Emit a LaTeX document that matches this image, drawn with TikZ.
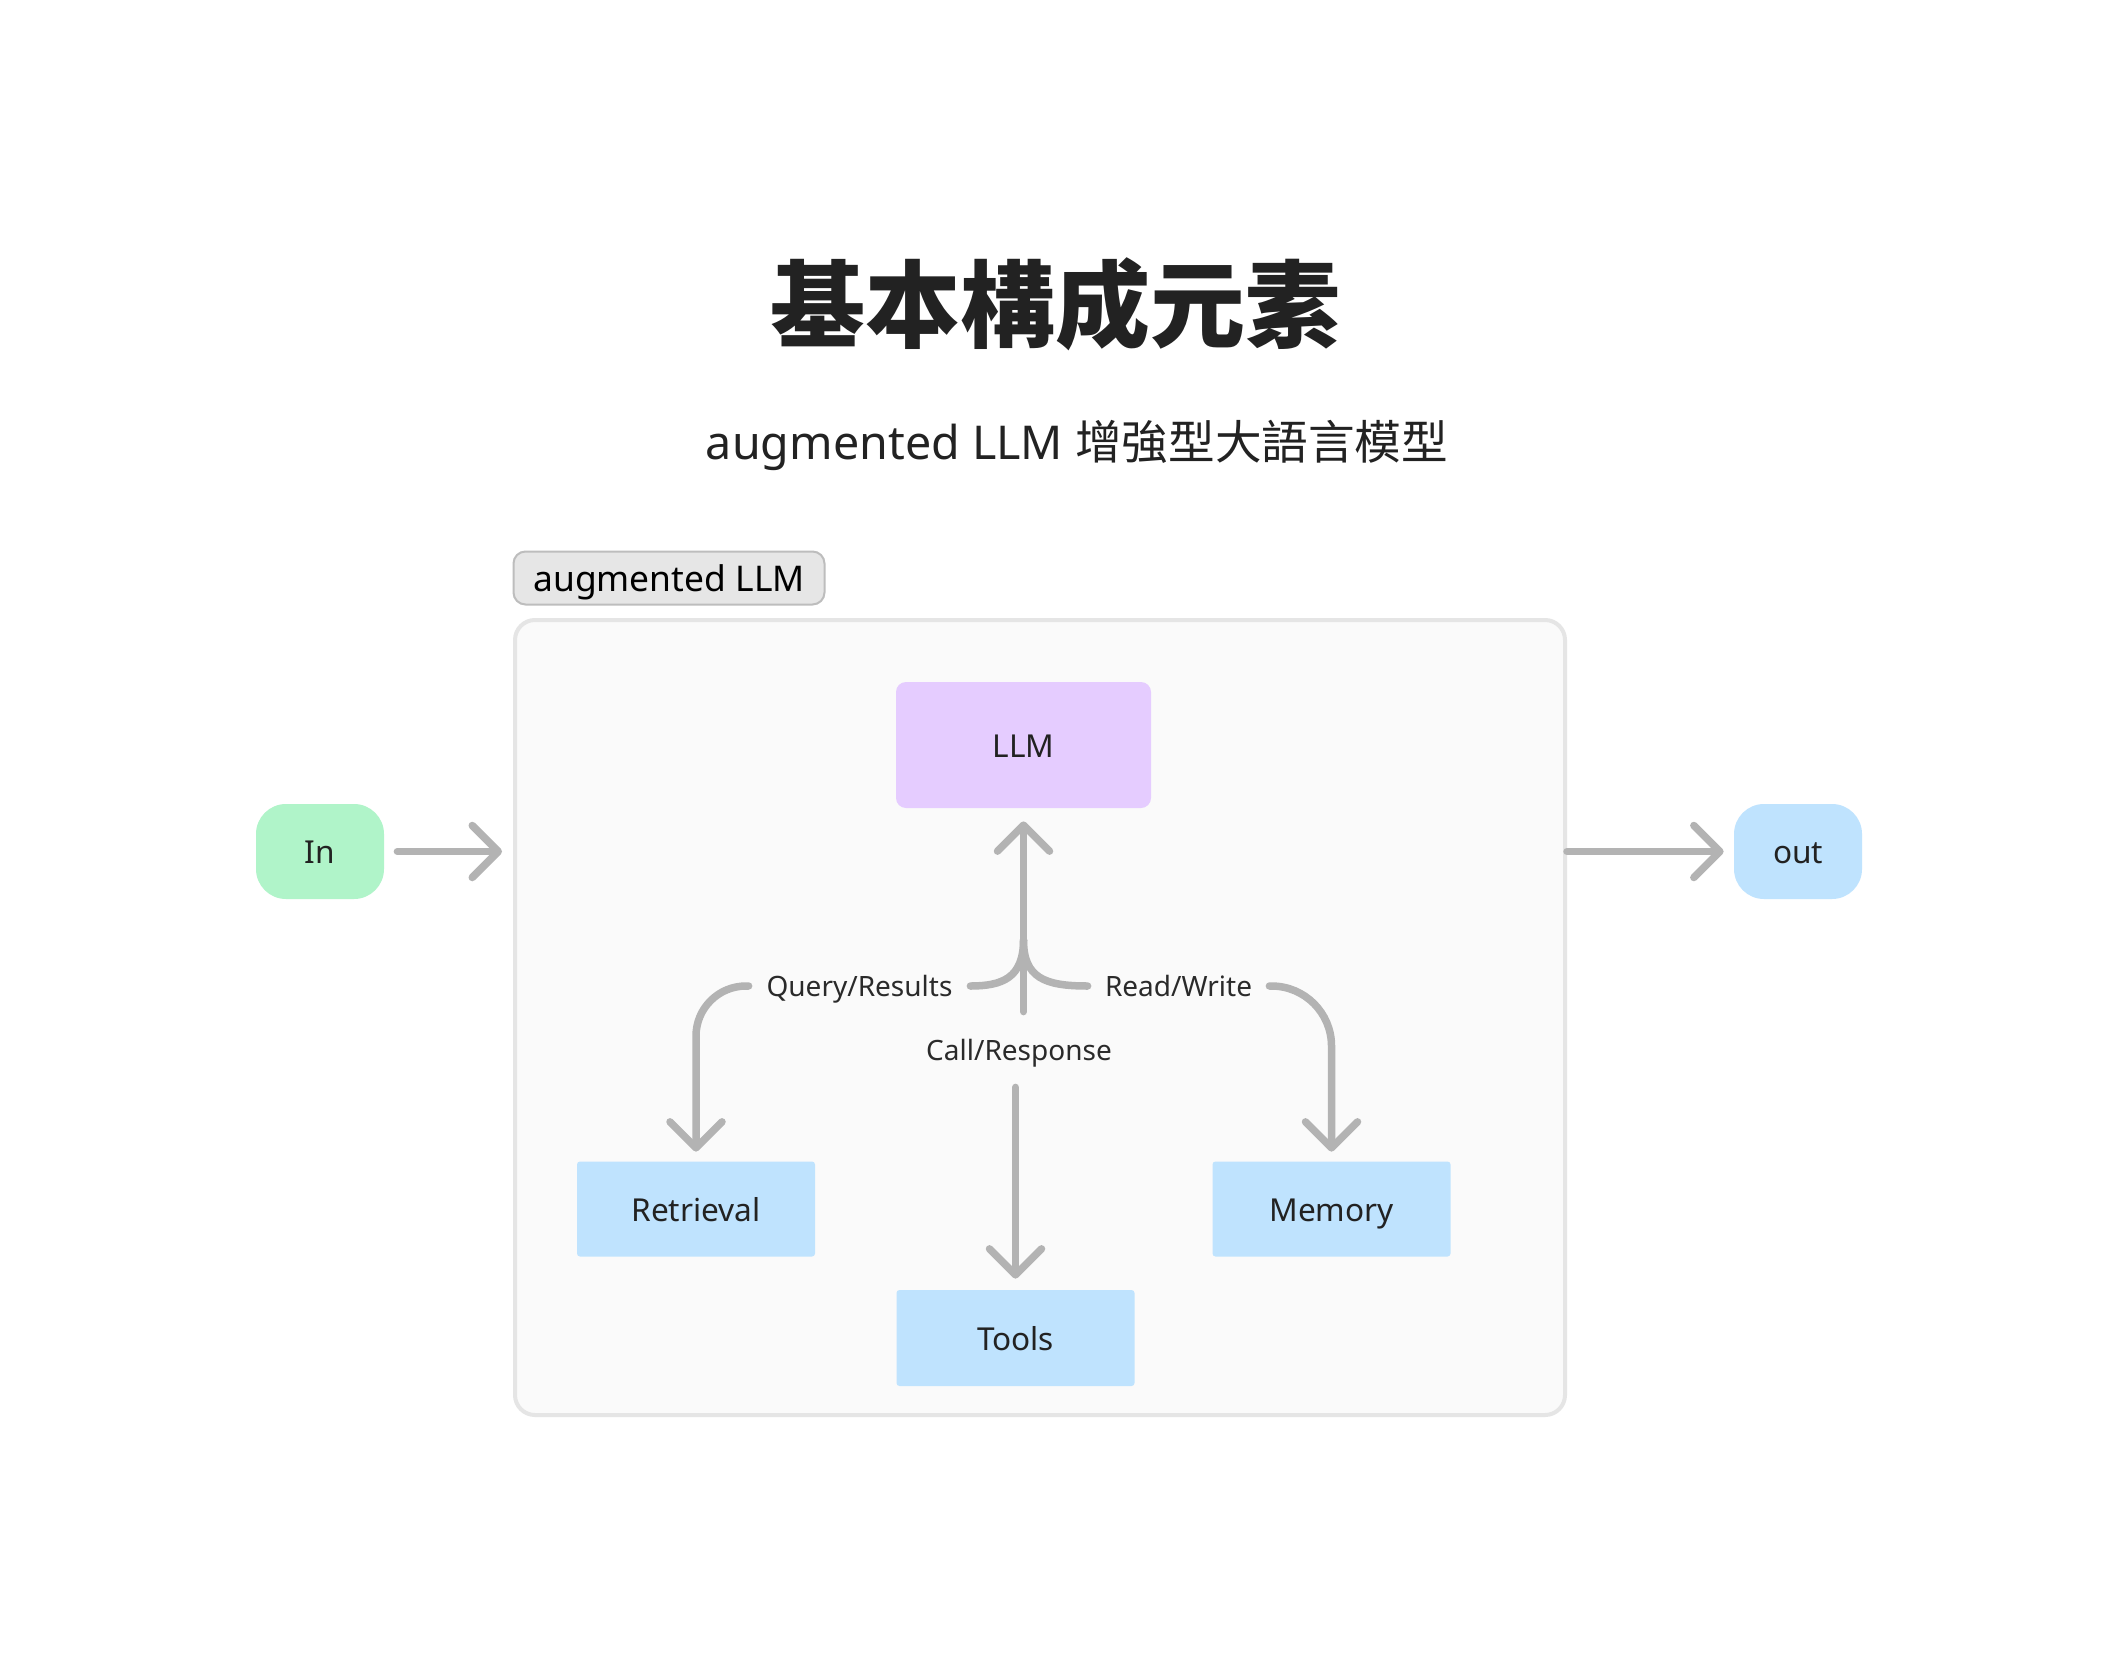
\documentclass[tikz,border=0pt]{standalone}
\usepackage{fontspec}
\setmainfont{Noto Sans}
\newfontfamily\cjk{Noto Sans CJK TC}
\usetikzlibrary{arrows.meta,calc}
\definecolor{arrowgray}{HTML}{B3B3B3}
\definecolor{boxfill}{HTML}{FAFAFA}
\definecolor{boxline}{HTML}{E5E5E5}
\definecolor{tagfill}{HTML}{E6E6E6}
\definecolor{tagline}{HTML}{BDBDBD}
\definecolor{llmfill}{HTML}{E5CCFF}
\definecolor{bluefill}{HTML}{BFE3FE}
\definecolor{greenfill}{HTML}{B0F4C9}
\definecolor{txt}{HTML}{222222}
\definecolor{lbltxt}{HTML}{2A2A2A}
\begin{document}
\begin{tikzpicture}[x=0.5pt,y=-0.5pt,
  seg/.style={draw=arrowgray, line width=3.75pt, line cap=round},
  arr/.style={seg, -{Straight Barb[length=13pt,width=26pt,line cap=round,line join=round]}},
  block/.style={fill=bluefill, minimum width=119pt, minimum height=47.5pt, inner sep=0pt,
    rounded corners=1.5pt, font=\fontsize{15.8}{18}\selectfont, text=txt,
    text height=12.3pt, text depth=0pt},
  pill/.style={minimum width=64pt, minimum height=47.5pt, inner sep=0pt,
    rounded corners=15pt, font=\fontsize{15.8}{18}\selectfont, text=txt,
    text height=12.3pt, text depth=0pt},
  elabel/.style={inner sep=0pt, font=\fontsize{14}{16}\selectfont, text=lbltxt,
    text height=10.9pt, text depth=0pt}
]
\useasboundingbox (0,0) rectangle (2118,1674);
\fill[white] (0,0) rectangle (2118,1674);

% titles
\node[font=\cjk\bfseries\fontsize{47.5}{52}\selectfont, text=txt] (title) at (1055,304) {基本構成元素};
\node[font=\fontsize{23.3}{26}\selectfont, text=txt] (sub) at (1077,445) {augmented LLM {\cjk 增強型大語言模型}};

% group tag and container
\node[draw=tagline, fill=tagfill, line width=1pt, rounded corners=6pt,
  minimum width=155.5pt, minimum height=26.5pt, inner sep=0pt,
  text height=13.8pt, text depth=0pt,
  font=\fontsize{17.7}{20}\selectfont, text=black] (tag) at (669,578) {augmented LLM};
\node[draw=boxline, fill=boxfill, line width=2pt, rounded corners=10pt,
  minimum width=525pt, minimum height=397.5pt, inner sep=0pt] (box) at (1040,1017.5) {};

% nodes
\node[fill=llmfill, rounded corners=5pt, minimum width=127.5pt, minimum height=63pt,
  inner sep=0pt, font=\fontsize{15.8}{18}\selectfont, text=txt,
  text height=12.3pt, text depth=0pt] (LLM) at (1023.5,745) {LLM};
\node[pill, fill=greenfill] (In) at (320,851.5) {In};
\node[pill, fill=bluefill] (out) at (1798,851.5) {out};
\node[block] (Retrieval) at (696,1209) {Retrieval};
\node[block] (Memory) at (1331.5,1209) {Memory};
\node[block, minimum height=48pt] (Tools) at (1015.5,1338) {Tools};

% edge labels (their extent fixes the gaps in the connectors)
\node[elabel, minimum width=110.5pt] (qr) at (859.5,986) {Query/Results};
\node[elabel, minimum width=90.5pt] (rw) at (1178.5,986) {Read/Write};
\node[elabel, minimum height=37.5pt] (cr) at (1019,1049.5) {Call/Response};
\coordinate (jl) at (1023.5,940);

% connectors
\draw[arr, shorten <=6.5pt, shorten >=5.5pt] (In.east) -- (In.east -| box.west);
\draw[arr, shorten >=5pt] (out.west -| box.east) -- (out.west);
\draw[arr, shorten >=6.5pt] (cr.north -| LLM.south) -- (LLM.south);
\draw[seg] (jl) .. controls (1023.5,978) and (1002,986) .. (qr.east);
\draw[seg] (jl) .. controls (1023.5,978) and (1045,986) .. (rw.west);
\draw[arr, rounded corners=25pt, shorten >=4.75pt] (qr.west) -| (Retrieval.north);
\draw[arr, rounded corners=30pt, shorten >=4.75pt] (rw.east) -| (Memory.north);
\draw[arr, shorten >=5.5pt] (cr.south -| Tools.north) -- (Tools.north);
\end{tikzpicture}
\end{document}
